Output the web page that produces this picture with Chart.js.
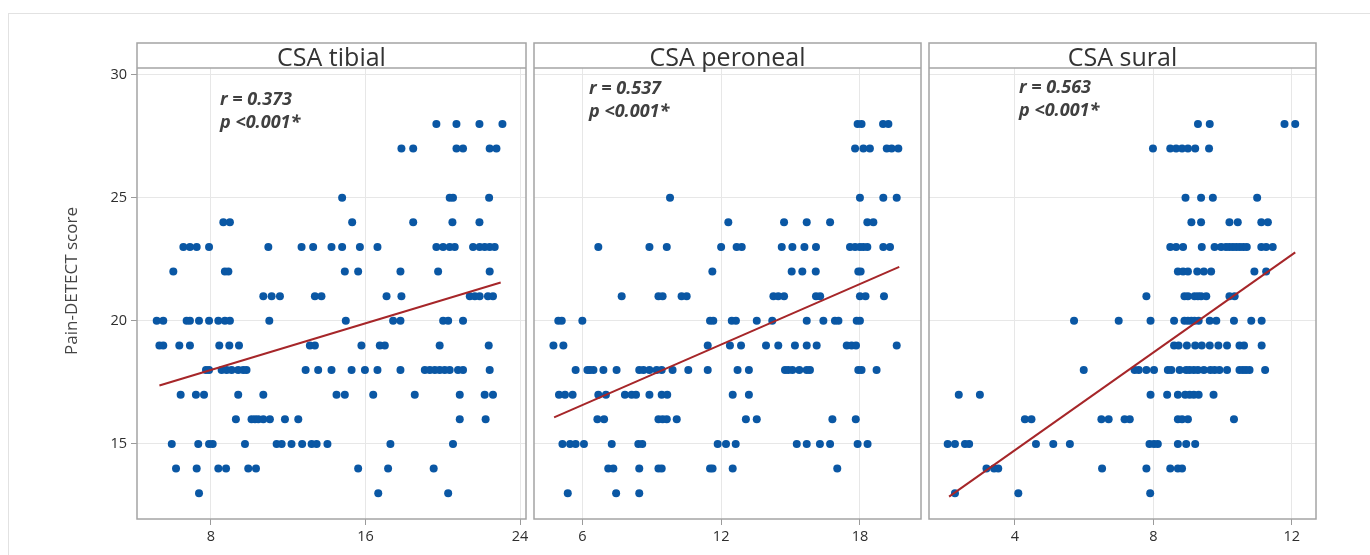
<!DOCTYPE html>
<html>
<head>
<meta charset="utf-8">
<title>Pain-DETECT vs CSA</title>
<script src="https://cdn.jsdelivr.net/npm/chart.js@4.4.0/dist/chart.umd.min.js"></script>
<style>
	body { margin: 0; background: #fff; width: 1370px; height: 555px; overflow: hidden; position: relative; }
	.frame { position: absolute; left: 8px; top: 13px; right: 0; bottom: 0; border-left: 1px solid #e2e2e2; border-top: 1px solid #e2e2e2; }
	canvas { position: absolute; top: 0; }
</style>
</head>
<body>
<div class="frame"></div>
<canvas id="tibial" style="left:0px" width="530" height="555"></canvas>
<canvas id="peroneal" style="left:530px" width="395" height="555"></canvas>
<canvas id="sural" style="left:925px" width="395" height="555"></canvas>
<script>
var yTitle = 'Pain-DETECT score';
var yTicks = [15, 20, 25, 30];
var tibialTicks = [8, 16, 24];
var peronealTicks = [6, 12, 18];
var suralTicks = [4, 8, 12];

// each row: [score, CSA values at that score]
var tibialRows = [
	[28, [19.67, 20.71, 21.9, 23.09]],
	[27, [17.86, 18.47, 20.71, 21.05, 22.43, 22.78]],
	[25, [14.79, 20.36, 20.53, 22.4]],
	[24, [8.64, 8.98, 15.31, 18.47, 20.5, 21.9]],
	[23, [6.57, 6.91, 7.26, 7.9, 10.97, 12.69, 13.29, 14.24, 14.79, 15.71, 16.62, 19.67, 20.02, 20.36, 20.62, 21.57, 21.91, 22.17, 22.43, 22.69]],
	[22, [6.05, 8.72, 8.9, 14.93, 15.62, 17.81, 19.76, 22.43]],
	[21, [10.71, 11.14, 11.57, 13.38, 13.72, 17.09, 17.86, 21.4, 21.66, 21.91, 22.34, 22.6]],
	[20, [5.19, 5.53, 6.74, 6.91, 7.38, 7.9, 8.38, 8.72, 8.98, 11.02, 14.98, 17.43, 17.81, 20.02, 20.28, 21.05]],
	[19, [5.33, 5.53, 6.36, 6.91, 8.43, 8.95, 9.45, 13.12, 13.38, 15.79, 16.74, 17.0, 19.84, 22.38]],
	[18, [7.74, 7.9, 8.55, 8.81, 9.07, 9.41, 9.67, 9.84, 12.9, 13.55, 14.24, 15.28, 15.97, 16.62, 17.81, 19.07, 19.33, 19.59, 19.84, 20.1, 20.36, 20.79, 21.05, 22.43]],
	[17, [6.43, 7.22, 7.64, 9.41, 10.71, 14.5, 14.93, 16.4, 18.55, 20.88, 22.17, 22.6]],
	[16, [9.29, 10.1, 10.28, 10.45, 10.71, 11.05, 11.83, 12.52, 20.88, 22.22]],
	[15, [5.97, 7.34, 7.9, 8.09, 9.76, 11.4, 11.66, 12.17, 12.72, 13.21, 13.47, 14.03, 17.29, 20.53]],
	[14, [6.19, 7.26, 8.38, 8.78, 9.93, 10.33, 15.62, 17.17, 19.53]],
	[13, [7.38, 16.66, 20.28]]
];
var tibialFit = [[5.33, 17.37], [23.0, 21.56]];

var peronealRows = [
	[28, [17.9, 18.07, 19.0, 19.23]],
	[27, [17.79, 18.15, 18.43, 19.16, 19.37, 19.66]],
	[25, [9.79, 18.0, 19.01, 19.59]],
	[24, [12.31, 14.72, 15.7, 16.71, 18.32, 18.58]],
	[23, [6.69, 8.9, 9.65, 12.0, 12.67, 12.89, 14.62, 15.08, 15.6, 16.1, 17.57, 17.79, 18.0, 18.15, 18.32, 19.01, 19.3]],
	[22, [11.62, 15.05, 15.51, 16.09, 17.93, 18.03]],
	[21, [7.7, 9.29, 9.47, 10.29, 10.51, 14.26, 14.47, 14.72, 16.1, 16.28, 18.0, 18.24, 19.04]],
	[20, [4.96, 5.11, 6.0, 11.52, 11.66, 12.46, 12.64, 13.54, 14.21, 15.7, 16.42, 16.92, 17.07, 17.86, 18.0]],
	[19, [4.75, 5.18, 11.42, 12.38, 12.86, 13.94, 14.47, 15.19, 15.7, 16.13, 17.43, 17.64, 17.83, 19.59]],
	[18, [5.71, 6.22, 6.33, 6.48, 6.91, 7.48, 8.46, 8.64, 8.9, 9.21, 9.43, 9.9, 10.58, 11.42, 12.71, 13.2, 14.76, 14.9, 15.08, 15.38, 15.7, 15.84, 17.93, 18.07, 18.72]],
	[17, [4.99, 5.25, 5.58, 6.69, 7.02, 7.84, 8.13, 8.32, 8.9, 9.43, 9.67, 12.5, 13.2]],
	[16, [6.65, 6.94, 9.29, 9.47, 9.65, 10.08, 13.07, 13.54, 16.81, 17.82]],
	[15, [5.14, 5.47, 5.71, 6.07, 7.27, 8.42, 8.59, 11.85, 12.21, 12.63, 15.27, 15.7, 16.27, 16.71, 17.9, 18.33]],
	[14, [7.12, 7.34, 8.46, 9.29, 9.43, 11.52, 11.63, 12.5, 17.02]],
	[13, [5.37, 7.46, 8.46]]
];
var peronealFit = [[4.78, 16.08], [19.7, 22.19]];

var suralRows = [
	[28, [9.29, 9.63, 11.79, 12.1]],
	[27, [7.99, 8.49, 8.66, 8.83, 9.0, 9.21, 9.61]],
	[25, [8.93, 9.38, 9.72, 11.0]],
	[24, [9.1, 9.38, 10.2, 10.44, 11.12, 11.31]],
	[23, [8.49, 8.66, 8.86, 9.4, 9.77, 9.96, 10.1, 10.2, 10.3, 10.4, 10.5, 10.6, 10.7, 11.12, 11.26, 11.45]],
	[22, [8.71, 8.86, 9.0, 9.27, 9.46, 9.67, 10.92, 11.26]],
	[21, [7.8, 8.9, 9.0, 9.19, 9.29, 9.38, 9.53, 10.2, 10.35]],
	[20, [5.71, 7.0, 7.92, 8.6, 8.9, 9.0, 9.1, 9.19, 9.31, 9.63, 9.82, 10.33, 10.83, 11.13]],
	[19, [8.6, 8.73, 8.97, 9.21, 9.4, 9.63, 9.88, 10.13, 10.49, 10.62, 11.13]],
	[18, [5.99, 7.46, 7.58, 7.8, 8.02, 8.42, 8.52, 8.76, 8.95, 9.05, 9.17, 9.29, 9.46, 9.65, 9.77, 9.91, 10.13, 10.49, 10.59, 10.68, 10.78, 11.23]],
	[17, [2.38, 2.99, 7.92, 8.4, 8.71, 8.92, 9.05, 9.17, 9.31, 9.74]],
	[16, [4.29, 4.48, 6.5, 6.71, 7.17, 7.32, 8.71, 8.83, 9.0, 10.33]],
	[15, [2.06, 2.27, 2.56, 2.68, 4.61, 5.11, 5.59, 7.89, 8.02, 8.13, 8.71, 8.95, 9.21]],
	[14, [3.18, 3.4, 3.52, 6.52, 7.8, 8.49, 8.71, 8.83]],
	[13, [2.27, 4.1, 7.91]]
];
var suralFit = [[2.1, 12.86], [12.1, 22.78]];

var dotColor = '#0a57a4',
	fitColor = '#a62629',
	gridColor = '#e7e7e7',
	frameColor = '#a4a4a4',
	textColor = '#2e2e2e';

function toPoints(rows) {
	var pts = [];
	for (var i = 0; i < rows.length; i++) {
		for (var j = 0; j < rows[i][1].length; j++) {
			pts.push({ x: rows[i][1][j], y: rows[i][0] });
		}
	}
	return pts;
}

var panelPlugin = {
	id: 'panel',
	afterDraw: function (chart, args, opts) {
		var a = chart.chartArea,
			ctx = chart.ctx;
		ctx.save();
		ctx.strokeStyle = frameColor;
		ctx.lineWidth = 1.5;
		ctx.strokeRect(a.left, 43, a.right - a.left, a.bottom - 43);
		ctx.beginPath();
		ctx.moveTo(a.left, a.top);
		ctx.lineTo(a.right, a.top);
		ctx.stroke();

		ctx.fillStyle = '#333';
		ctx.font = '25px "Open Sans", sans-serif';
		ctx.textAlign = 'center';
		ctx.textBaseline = 'alphabetic';
		ctx.fillText(opts.title, (a.left + a.right) / 2, 66);

		ctx.fillStyle = '#404040';
		ctx.font = 'italic bold 18px "Open Sans", sans-serif';
		ctx.textAlign = 'left';
		ctx.fillText('r = ' + opts.r, a.left + opts.dx, a.top + opts.dy);
		ctx.fillText('p <0.001*', a.left + opts.dx, a.top + opts.dy + 23);

		if (opts.yTitle) {
			ctx.fillStyle = '#444';
			ctx.font = '17px "Open Sans", sans-serif';
			ctx.textAlign = 'center';
			ctx.textBaseline = 'middle';
			ctx.translate(72, 281);
			ctx.rotate(-Math.PI / 2);
			ctx.fillText(opts.yTitle, 0, 0);
		}
		ctx.restore();
	}
};

function drawPanel(id, p) {
	var ctx = document.getElementById(id).getContext('2d');
	return new Chart(ctx, {
		type: 'scatter',
		data: {
			datasets: [
				{
					data: p.fit.map(function (d) { return { x: d[0], y: d[1] }; }),
					showLine: true,
					borderColor: fitColor,
					borderWidth: 2,
					pointRadius: 0
				},
				{
					data: toPoints(p.rows),
					backgroundColor: dotColor,
					borderWidth: 0,
					pointRadius: 4
				}
			]
		},
		plugins: [panelPlugin],
		options: {
			responsive: false,
			animation: false,
			layout: { padding: { top: 68, right: p.padRight, bottom: 0, left: 0 } },
			plugins: {
				legend: { display: false },
				tooltip: { enabled: false },
				panel: { title: p.title, r: p.r, dx: p.dx, dy: p.dy, yTitle: p.yTitle }
			},
			scales: {
				x: {
					type: 'linear',
					min: p.xmin,
					max: p.xmax,
					afterBuildTicks: function (s) { s.ticks = p.ticks.map(function (v) { return { value: v }; }); },
					afterFit: function (s) { s.height = 36; s.paddingLeft = 0; s.paddingRight = 0; },
					border: { display: false },
					grid: { color: gridColor, tickColor: '#9a9a9a', tickLength: 6 },
					ticks: { color: textColor, padding: 3, font: { family: '"Open Sans", sans-serif', size: 14.5 } }
				},
				y: {
					type: 'linear',
					min: 11.95,
					max: 30.27,
					afterBuildTicks: function (s) { s.ticks = yTicks.map(function (v) { return { value: v }; }); },
					afterFit: function (s) { s.width = p.yWidth; s.paddingTop = 0; s.paddingBottom = 0; },
					border: { display: false },
					grid: { color: gridColor, tickColor: '#9a9a9a', tickLength: 6, drawTicks: p.showY },
					ticks: { display: p.showY, color: textColor, padding: 4, font: { family: '"Open Sans", sans-serif', size: 14.5 } }
				}
			}
		}
	});
}

drawPanel('tibial', {
	rows: tibialRows, fit: tibialFit, ticks: tibialTicks, xmin: 4.17, xmax: 24.31,
	title: 'CSA tibial', r: '0.373', dx: 83, dy: 37,
	yWidth: 137, padRight: 4, showY: true, yTitle: yTitle
});
drawPanel('peroneal', {
	rows: peronealRows, fit: peronealFit, ticks: peronealTicks, xmin: 3.91, xmax: 20.64,
	title: 'CSA peroneal', r: '0.537', dx: 55, dy: 26,
	yWidth: 4, padRight: 4, showY: false
});
drawPanel('sural', {
	rows: suralRows, fit: suralFit, ticks: suralTicks, xmin: 1.52, xmax: 12.70,
	title: 'CSA sural', r: '0.563', dx: 90, dy: 25,
	yWidth: 4, padRight: 3, showY: false
});
</script>
</body>
</html>
